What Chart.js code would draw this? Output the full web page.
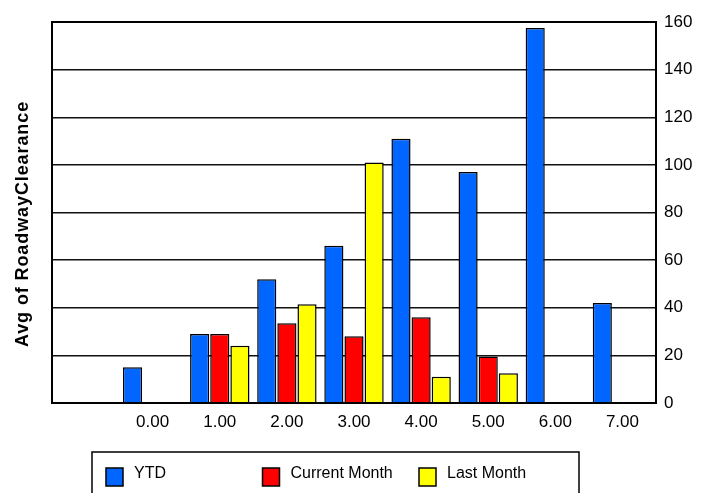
<!DOCTYPE html>
<html>
<head>
<meta charset="utf-8">
<script src="https://cdn.jsdelivr.net/npm/chart.js@4.4.0/dist/chart.umd.min.js"></script>
<style>
html,body{margin:0;padding:0;background:#fff;}
#wrap{width:705px;height:493px;position:relative;}
</style>
</head>
<body>
<div id="wrap"><canvas id="c" width="705" height="493"></canvas></div>
<script>
const categories = ['', '0.00', '1.00', '2.00', '3.00', '4.00', '5.00', '6.00', '7.00'];
const ytd = [null, 15, 29, 52, 66, 111, 97, 157.5, 42];
const currentMonth = [null, null, 29, 33.5, 28, 36, 19.5, null, null];
const lastMonth = [null, null, 24, 41.5, 101, 11, 12.5, null, null];
const seriesNames = ['YTD', 'Current Month', 'Last Month'];
const seriesColors = ['#0066ff', '#ff0000', '#ffff00'];
const yTitle = 'Avg of RoadwayClearance';
const FONT = '"Liberation Sans", Arial, sans-serif';

const framePlugin = {
  id: 'frame',
  afterDatasetsDraw(chart) {
    const {ctx, chartArea: a} = chart;
    ctx.save();
    ctx.strokeStyle = '#000';
    ctx.lineWidth = 2;
    ctx.strokeRect(a.left, a.top, a.right - a.left, a.bottom - a.top);
    ctx.restore();
  },
  afterDraw(chart) {
    const ctx = chart.ctx;
    // y title
    ctx.save();
    ctx.translate(23, 224);
    ctx.rotate(-Math.PI / 2);
    ctx.font = 'bold 18px ' + FONT;
    ctx.fillStyle = '#000';
    ctx.textAlign = 'center';
    ctx.textBaseline = 'middle';
    if ('letterSpacing' in ctx) ctx.letterSpacing = '0.9px';
    ctx.fillText(yTitle, 0, 0);
    ctx.restore();
    // legend
    ctx.save();
    ctx.strokeStyle = '#000';
    ctx.lineWidth = 1.5;
    ctx.strokeRect(92, 452, 487, 60);
    ctx.font = '16px ' + FONT;
    ctx.textBaseline = 'middle';
    ctx.textAlign = 'left';
    chart.data.datasets.forEach((ds, i) => {
      const x = 106 + i * 156.5;
      ctx.fillStyle = ds.backgroundColor;
      ctx.fillRect(x, 468, 17, 18);
      ctx.lineWidth = 1.5;
      ctx.strokeStyle = '#000';
      ctx.strokeRect(x, 468, 17, 18);
      ctx.fillStyle = '#000';
      ctx.fillText(ds.label, x + 28, 474);
    });
    ctx.restore();
  }
};

new Chart(document.getElementById('c'), {
  type: 'bar',
  data: {
    labels: categories,
    datasets: [ytd, currentMonth, lastMonth].map((d, i) => ({
      label: seriesNames[i],
      data: d,
      backgroundColor: seriesColors[i],
      borderColor: '#000',
      borderWidth: 1.5,
      categoryPercentage: 0.9,
      barPercentage: 0.95
    }))
  },
  options: {
    responsive: false,
    animation: false,
    layout: {padding: {left: 52, top: 22, right: 0, bottom: 0}},
    plugins: {legend: {display: false}, tooltip: {enabled: false}},
    scales: {
      x: {
        grid: {display: false, drawTicks: false},
        border: {display: false},
        ticks: {color: '#000', font: {family: FONT, size: 17}, padding: 9, maxRotation: 0, autoSkip: false},
        afterFit(s) { s.height = 90; }
      },
      y: {
        position: 'right',
        min: 0, max: 160,
        grid: {color: '#111', lineWidth: 1.5, drawTicks: false},
        border: {display: false},
        ticks: {stepSize: 20, color: '#000', font: {family: FONT, size: 17}, padding: 8},
        afterFit(s) { s.width = 49; }
      }
    }
  },
  plugins: [framePlugin]
});
</script>
</body>
</html>
